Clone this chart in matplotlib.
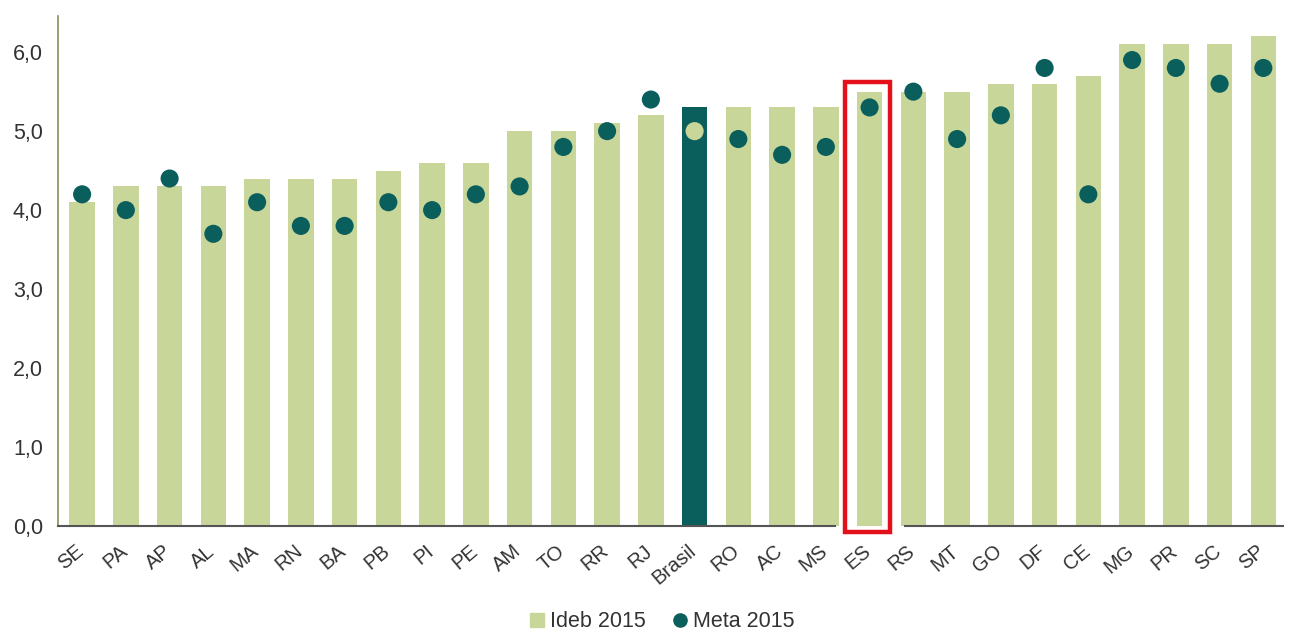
import matplotlib
matplotlib.use("Agg")
import matplotlib.pyplot as plt
from matplotlib.patches import Rectangle
from matplotlib.lines import Line2D
from matplotlib.transforms import ScaledTranslation

plt.rcParams['font.family'] = ['Liberation Sans', 'DejaVu Sans']

categories = ["SE", "PA", "AP", "AL", "MA", "RN", "BA", "PB", "PI", "PE", "AM", "TO", "RR", "RJ",
              "Brasil", "RO", "AC", "MS", "ES", "RS", "MT", "GO", "DF", "CE", "MG", "PR", "SC", "SP"]
ideb_2015 = [4.1, 4.3, 4.3, 4.3, 4.4, 4.4, 4.4, 4.5, 4.6, 4.6, 5.0, 5.0, 5.1, 5.2,
             5.3, 5.3, 5.3, 5.3, 5.5, 5.5, 5.5, 5.6, 5.6, 5.7, 6.1, 6.1, 6.1, 6.2]
meta_2015 = [4.2, 4.0, 4.4, 3.7, 4.1, 3.8, 3.8, 4.1, 4.0, 4.2, 4.3, 4.8, 5.0, 5.4,
             5.0, 4.9, 4.7, 4.8, 5.3, 5.5, 4.9, 5.2, 5.8, 4.2, 5.9, 5.8, 5.6, 5.8]
yticks = [0, 1, 2, 3, 4, 5, 6]
ytick_labels = ["0,0", "1,0", "2,0", "3,0", "4,0", "5,0", "6,0"]
highlight = "Brasil"
boxed = "ES"

light = "#c9d69a"
dark = "#0a5f5c"
text_col = "#333333"

fig = plt.figure(figsize=(12.9, 6.33), dpi=100)
ax = fig.add_axes([0.045, 0.169, 0.9496, 0.806])

x = list(range(len(categories)))
bar_colors = [dark if c == highlight else light for c in categories]
dot_colors = [light if c == highlight else dark for c in categories]

ax.bar(x, ideb_2015, width=0.58, color=bar_colors, zorder=2)
ax.scatter(x, meta_2015, s=170, c=dot_colors, zorder=3, linewidths=0)

ax.set_xlim(-0.55, len(categories) - 0.55)
ax.set_ylim(0, 6.46)

for s in ["top", "right", "bottom"]:
    ax.spines[s].set_visible(False)
ax.spines["left"].set_color("#8a8f5a")
ax.spines["left"].set_linewidth(1.2)

# bottom axis line with a gap around the boxed category
bi = categories.index(boxed)
ax.plot([-0.55, bi - 0.78], [0, 0], color="#555555", lw=1.5, zorder=4, clip_on=False)
ax.plot([bi + 0.8, len(categories) - 0.55], [0, 0], color="#555555", lw=1.5, zorder=4, clip_on=False)

# red highlight box
ax.add_patch(Rectangle((bi - 0.57, -0.08), 1.04, 5.7, fill=False, edgecolor="#e3101a",
                       linewidth=3.2, zorder=5, clip_on=False))

ax.set_yticks(yticks)
ax.set_yticklabels(ytick_labels, fontsize=15.5, color=text_col)
ax.tick_params(axis="y", length=0, pad=11)
ax.set_xticks(x)
ax.set_xticklabels(categories, rotation=40, ha="right", va="top", rotation_mode="anchor",
                   fontsize=14.5, color=text_col)
ax.tick_params(axis="x", length=0, pad=11)
shift = ScaledTranslation(-0.07, 0, fig.dpi_scale_trans)
for lab in ax.get_xticklabels():
    lab.set_transform(lab.get_transform() + shift)

handles = [Line2D([], [], marker="s", linestyle="none", markersize=10.5, color=light, label="Ideb 2015"),
           Line2D([], [], marker="o", linestyle="none", markersize=9.5, color=dark, label="Meta 2015")]
fig.legend(handles=handles, loc="center", bbox_to_anchor=(0.511, 0.018), ncol=2, frameon=False,
           fontsize=15.5, handletextpad=0.0, columnspacing=1.0, handlelength=1.2,
           labelcolor=text_col)

fig.savefig("out.png", dpi=100)
